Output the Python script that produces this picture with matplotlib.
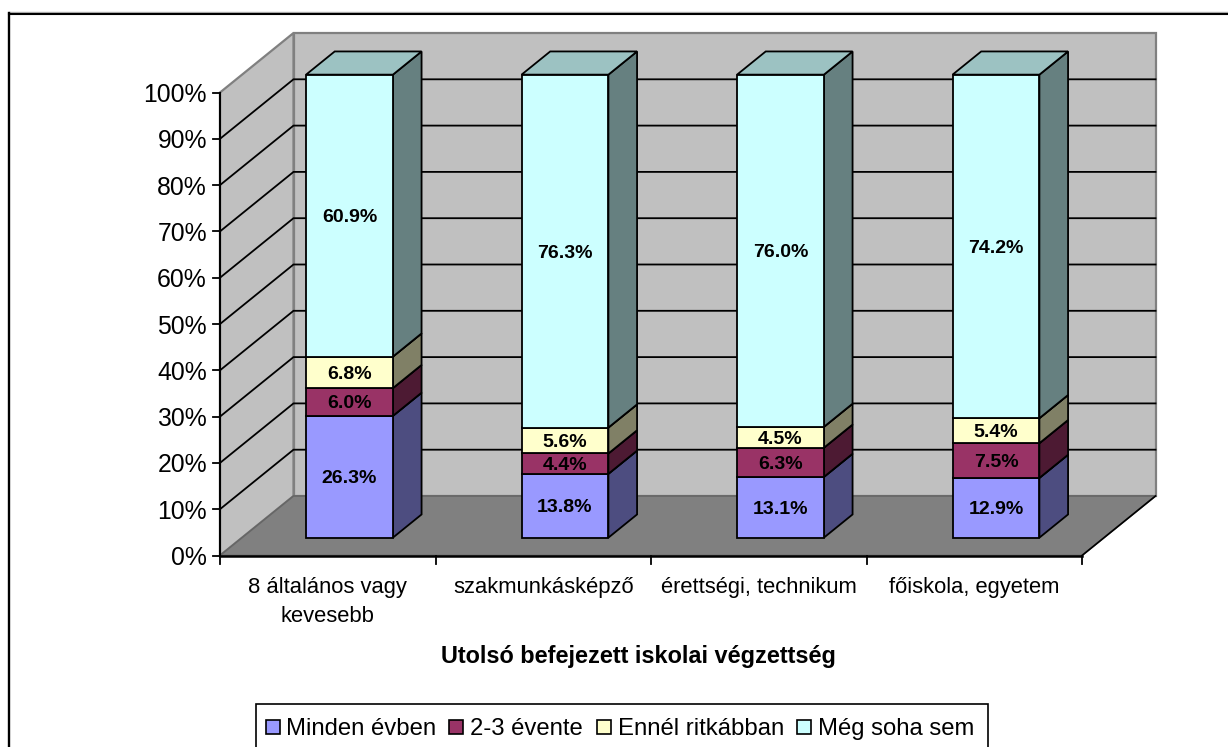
import matplotlib
matplotlib.use("Agg")
import matplotlib.pyplot as plt
from matplotlib.patches import Polygon, Rectangle

categories = ["8 általános vagy\nkevesebb", "szakmunkásképző", "érettségi, technikum", "főiskola, egyetem"]
series_names = ["Minden évben", "2-3 évente", "Ennél ritkábban", "Még soha sem"]
minden_evben = [26.3, 13.8, 13.1, 12.9]
ket_harom_evente = [6.0, 4.4, 6.3, 7.5]
ennel_ritkabban = [6.8, 5.6, 4.5, 5.4]
meg_soha_sem = [60.9, 76.3, 76.0, 74.2]
pct_ticks = [0, 10, 20, 30, 40, 50, 60, 70, 80, 90, 100]

series = [minden_evben, ket_harom_evente, ennel_ritkabban, meg_soha_sem]
front = ["#9999FF", "#993366", "#FFFFCC", "#CCFFFF"]
side = ["#4D4D80", "#4D1A33", "#808066", "#668080"]
top = ["#7F7FD4", "#7F2A55", "#D4D4AA", "#9CC2C2"]

W, H = 1228, 747
plt.rcParams["font.family"] = ["Liberation Sans", "DejaVu Sans"]
fig = plt.figure(figsize=(W / 100, H / 100), dpi=100, facecolor="white")
ax = fig.add_axes([0, 0, 1, 1])
ax.set_xlim(0, W)
ax.set_ylim(H, 0)
ax.axis("off")

# projection of the oblique 3-D box: category position, percentage, depth (0-1)
X0, X1, Y0, Y100, DX, DY = 220.0, 1082.0, 555.5, 92.5, 73.5, -59.5


def P(c, v, d=0.0):
    return (X0 + (X1 - X0) * c / len(categories) + DX * d,
            Y0 + (Y100 - Y0) * v / 100 + DY * d)


def poly(pts, fc, ec="black", lw=1.3, z=2):
    ax.add_patch(Polygon(pts, closed=True, facecolor=fc, edgecolor=ec, linewidth=lw, zorder=z, joinstyle="miter"))


n = len(categories)
# chart frame: only the top and left edges fall inside the picture
ax.plot([8.5, W], [12.2, 12.2], color="#B0B0B0", lw=1.0, zorder=0.5)
ax.plot([8.5, W], [13.5, 13.5], color="black", lw=1.5, zorder=0.6)
ax.plot([8.8, 8.8], [12.8, H], color="black", lw=1.7, zorder=0.6)
# walls and floor
GR = "#C0C0C0"
poly([P(0, 0, 1), P(n, 0, 1), P(n, 100, 1), P(0, 100, 1)], GR, "#808080", 1.6, 1)
poly([P(0, 0), P(0, 0, 1), P(0, 100, 1), P(0, 100)], GR, "#808080", 1.6, 1)
poly([P(0, 0), P(n, 0), P(n, 0, 1), P(0, 0, 1)], "#808080", "#666666", 1.2, 1)
# gridlines
for t in pct_ticks[1:-1]:
    a, b, c = P(0, t), P(0, t, 1), P(n, t, 1)
    ax.plot([a[0], b[0], c[0]], [a[1], b[1], c[1]], color="black", lw=1.3, zorder=1.5, solid_joinstyle="miter")
# floor edges over the walls
for a, b in [(P(0, 0), P(n, 0)), (P(n, 0), P(n, 0, 1))]:
    ax.plot([a[0], b[0]], [a[1], b[1]], color="black", lw=1.8 if a[1] == b[1] else 1.2, zorder=1.6)
# axes and ticks
a, b = P(0, 0), P(0, 100)
ax.plot([a[0], b[0]], [a[1], b[1]], color="black", lw=1.5, zorder=1.6)
for t in pct_ticks:
    x, y = P(0, t)
    ax.plot([x - 7, x], [y, y], color="black", lw=1.3, zorder=1.6)
    ax.text(x - 13, y + 9.5, f"{t}%", ha="right", va="baseline", fontsize=17.8, color="black")
for c in range(n + 1):
    x, y = P(c, 0)
    ax.plot([x, x], [y, y + 8], color="black", lw=1.3, zorder=1.6)

# stacked bars
bar_l, bar_r = 0.297, 0.700
dz0, dz1 = 0.30, 0.69
for c in range(n):
    total = sum(s[c] for s in series)
    base = 0.0
    for s, f, sd, tp in zip(series, front, side, top):
        h = s[c] / total * 100
        v0, v1 = base, base + h
        xl = c + bar_l
        xr = c + bar_r
        poly([P(xr, v0, dz0), P(xr, v0, dz1), P(xr, v1, dz1), P(xr, v1, dz0)], sd)
        poly([P(xl, v1, dz0), P(xr, v1, dz0), P(xr, v1, dz1), P(xl, v1, dz1)], tp)
        poly([P(xl, v0, dz0), P(xr, v0, dz0), P(xr, v1, dz0), P(xl, v1, dz0)], f, z=3)
        x, y = P((xl + xr) / 2, (v0 + v1) / 2, dz0)
        ax.text(x, y + 6.5, f"{s[c]:.1f}%", ha="center", va="baseline", fontsize=14, fontweight="bold", zorder=4)
        base = v1
    # category label
    x, y = P(c + 0.5, 0)
    for i, line in enumerate(categories[c].split("\n")):
        ax.text(x, 593 + 29 * i, line, ha="center", va="baseline", fontsize=15.8)

ax.text(638, 663, "Utolsó befejezett iskolai végzettség", ha="center", va="baseline", fontsize=16.9, fontweight="bold")

# legend
ax.add_patch(Rectangle((256, 704), 732, 50, facecolor="white", edgecolor="black", linewidth=1.2, zorder=5))
legend_boxes = [265.5, 449, 597, 797]
for lx, name, f in zip(legend_boxes, series_names, front):
    ax.add_patch(Rectangle((lx, 719.5), 14, 14, facecolor=f, edgecolor="black", linewidth=1.2, zorder=6))
    ax.text(lx + 21, 735, name, ha="left", va="baseline", fontsize=17.2, zorder=6)

fig.savefig("out.png", dpi=100)
